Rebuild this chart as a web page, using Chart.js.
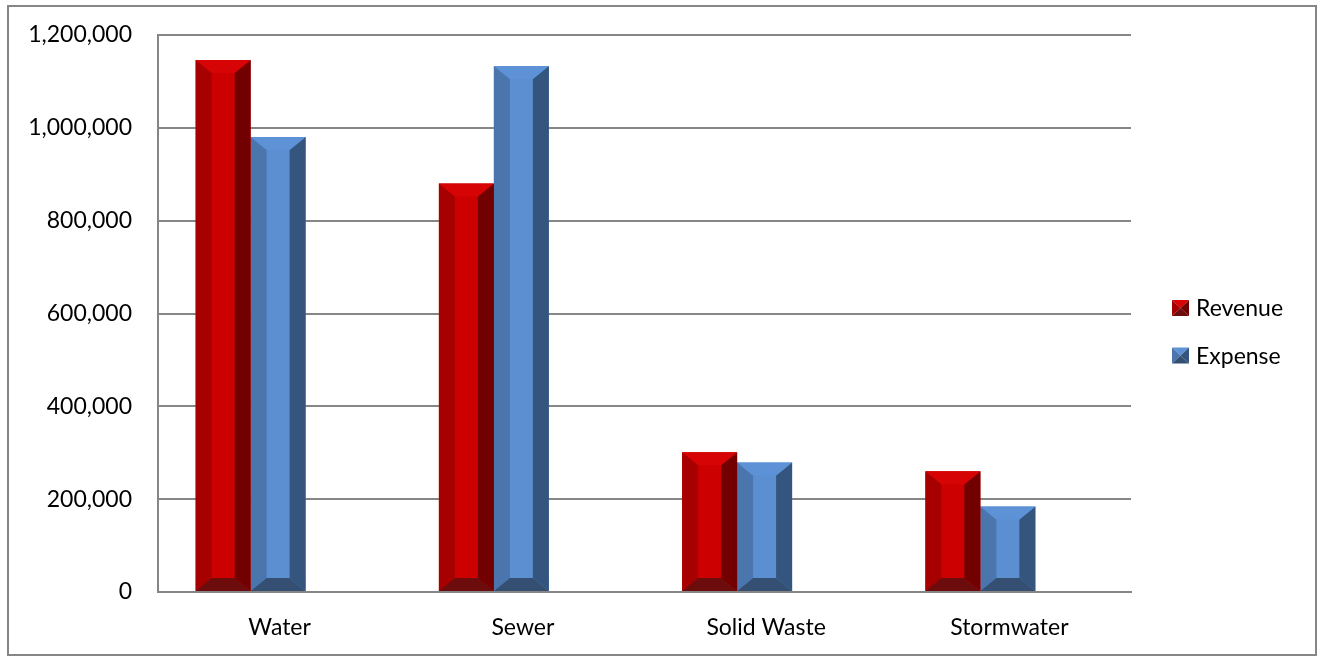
<!DOCTYPE html>
<html>
<head>
<meta charset="utf-8">
<script src="https://cdn.jsdelivr.net/npm/chart.js@4.4.1/dist/chart.umd.min.js"></script>
<style>
  html, body { margin: 0; padding: 0; background: #ffffff; }
  #wrap { width: 1320px; height: 656px; position: relative; }
</style>
</head>
<body>
<div id="wrap"><canvas id="c" width="1320" height="656"></canvas></div>
<script>
// ---- data ----
const categories = ['Water', 'Sewer', 'Solid Waste', 'Stormwater'];
const revenue = [1146000, 880000, 301000, 260000];
const expense = [980000, 1133000, 279000, 184000];
const seriesNames = ['Revenue', 'Expense'];
const yMin = 0;
const yMax = 1200000;
const yStep = 200000;

// ---- styles ----
const FONT = 'Lato, "Open Sans", sans-serif';
const GRID = '#868686';
const shades = [
  { front: '#CC0000', top: '#D60404', left: '#A60000', right: '#720000', bottom: '#6C0C0C' },
  { front: '#5B8FD1', top: '#5D92D7', left: '#4A75AD', right: '#34557E', bottom: '#344F72' }
];
const DEPTH_SHIFT = -29;

function poly(ctx, color, pts) {
  ctx.beginPath();
  ctx.moveTo(pts[0][0], pts[0][1]);
  for (let k = 1; k < pts.length; k++) ctx.lineTo(pts[k][0], pts[k][1]);
  ctx.closePath();
  ctx.fillStyle = color;
  ctx.fill();
}

const bevelPlugin = {
  id: 'bevel',
  beforeDatasetsDraw(chart) {
    chart.ctx.save();
    chart.ctx.translate(DEPTH_SHIFT, 0);
  },
  afterDatasetDraw(chart, args) {
    const ctx = chart.ctx;
    const sh = shades[args.index];
    args.meta.data.forEach(bar => {
      const p = bar.getProps(['x', 'y', 'base', 'width'], true);
      const x0 = p.x - p.width / 2, x1 = p.x + p.width / 2;
      const y0 = Math.min(p.y, p.base), y1 = Math.max(p.y, p.base);
      const bx = Math.min(16, p.width / 3.4);
      const by = Math.min(13, (y1 - y0) / 2);
      poly(ctx, sh.left,   [[x0, y0], [x0 + bx, y0 + by], [x0 + bx, y1 - by], [x0, y1]]);
      poly(ctx, sh.right,  [[x1, y0], [x1 - bx, y0 + by], [x1 - bx, y1 - by], [x1, y1]]);
      poly(ctx, sh.top,    [[x0, y0], [x1, y0], [x1 - bx, y0 + by], [x0 + bx, y0 + by]]);
      poly(ctx, sh.bottom, [[x0, y1], [x1, y1], [x1 - bx, y1 - by], [x0 + bx, y1 - by]]);
    });
  },
  afterDatasetsDraw(chart) {
    chart.ctx.restore();
  }
};

const legendPlugin = {
  id: 'customLegend',
  afterDraw(chart) {
    const ctx = chart.ctx;
    const a = chart.chartArea;
    ctx.save();
    seriesNames.forEach((name, i) => {
      const sh = shades[i];
      const cy = a.top + 273 + i * 47.5;
      const mx = a.right + 41, my = cy - 8, mw = 17, mh = 16;
      const cx = mx + mw / 2, cyy = my + mh / 2;
      poly(ctx, sh.top,    [[mx, my], [mx + mw, my], [cx, cyy]]);
      poly(ctx, sh.left,   [[mx, my], [mx, my + mh], [cx, cyy]]);
      poly(ctx, sh.right,  [[mx + mw, my], [mx + mw, my + mh], [cx, cyy]]);
      poly(ctx, sh.bottom, [[mx, my + mh], [mx + mw, my + mh], [cx, cyy]]);
      ctx.fillStyle = '#000000';
      ctx.font = '23px ' + FONT;
      ctx.textAlign = 'left';
      ctx.textBaseline = 'alphabetic';
      ctx.fillText(name, a.right + 65, cy + 8.2);
    });
    // outer chart border
    ctx.strokeStyle = GRID;
    ctx.lineWidth = 2;
    ctx.strokeRect(8, 6, 1308, 649);
    ctx.restore();
  }
};

new Chart(document.getElementById('c'), {
  type: 'bar',
  data: {
    labels: categories,
    datasets: [
      { label: seriesNames[0], data: revenue, backgroundColor: shades[0].front, borderWidth: 0 },
      { label: seriesNames[1], data: expense, backgroundColor: shades[1].front, borderWidth: 0 }
    ]
  },
  options: {
    responsive: false,
    animation: false,
    devicePixelRatio: 1,
    layout: { padding: { left: 0, top: 35, right: 189, bottom: 0 } },
    datasets: { bar: { categoryPercentage: 0.452, barPercentage: 1.0 } },
    plugins: { legend: { display: false }, tooltip: { enabled: false } },
    scales: {
      x: {
        type: 'category',
        grid: { display: false, drawTicks: false },
        border: { display: true, color: GRID, width: 2 },
        ticks: { color: '#000', font: { family: FONT, size: 23 }, padding: 22, maxRotation: 0, autoSkip: false },
        afterFit(scale) { scale.height = 64; scale.paddingTop = 0; scale.paddingBottom = 0; }
      },
      y: {
        min: yMin,
        max: yMax,
        grid: { color: GRID, lineWidth: 2, drawTicks: false },
        border: { display: true, color: GRID, width: 2 },
        ticks: {
          stepSize: yStep,
          color: '#000',
          font: { family: FONT, size: 23 },
          padding: 26,
          callback: v => Number(v).toLocaleString('en-US')
        },
        afterFit(scale) { scale.width = 158; scale.paddingTop = 0; scale.paddingBottom = 0; }
      }
    }
  },
  plugins: [bevelPlugin, legendPlugin]
});
</script>
</body>
</html>
